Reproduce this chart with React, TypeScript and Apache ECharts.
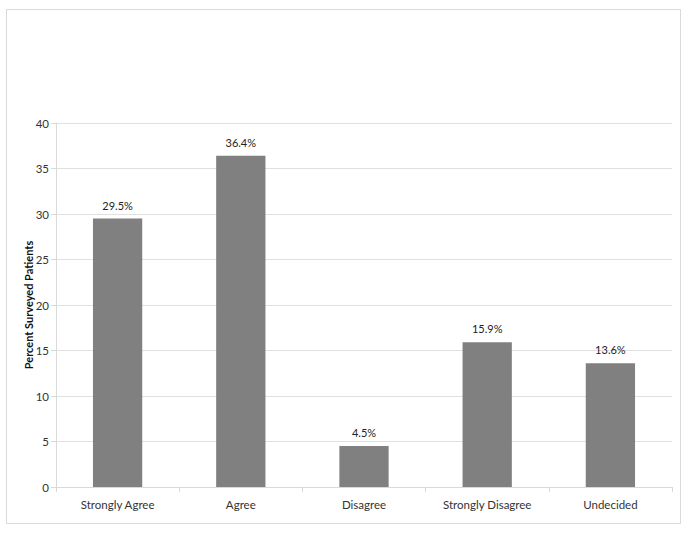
import React, { useEffect, useRef } from "react";
import * as echarts from "echarts";

const categories = ["Strongly Agree", "Agree", "Disagree", "Strongly Disagree", "Undecided"];
const values = [29.5, 36.4, 4.5, 15.9, 13.6];
const yTitle = "Percent Surveyed Patients";

export default function App() {
  const ref = useRef<HTMLDivElement>(null);
  useEffect(() => {
    if (!ref.current) return;
    const chart = echarts.init(ref.current, null, { renderer: "svg" });
    const font = "Lato, 'Open Sans', sans-serif";
    chart.setOption({
      animation: false,
      backgroundColor: "#ffffff",
      graphic: [
        {
          type: "rect",
          shape: { x: 6.5, y: 9.5, width: 674, height: 514 },
          style: { fill: "none", stroke: "#d9d9d9", lineWidth: 1 },
          silent: true,
        },
        {
          type: "text",
          x: 28,
          y: 305,
          rotation: Math.PI / 2,
          style: {
            text: yTitle,
            fill: "#111",
            font: "bold 11px Lato, 'Open Sans', sans-serif",
            align: "center",
            verticalAlign: "middle",
          },
          silent: true,
        },
      ],
      grid: { left: 56, right: 13, top: 123, bottom: 46 },
      xAxis: {
        type: "category",
        data: categories,
        axisLine: { lineStyle: { color: "#d9d9d9" } },
        axisTick: { show: true, alignWithLabel: false, length: 5, lineStyle: { color: "#d9d9d9" } },
        axisLabel: { color: "#333", fontFamily: font, fontSize: 11.5, margin: 11 },
      },
      yAxis: {
        type: "value",
        min: 0,
        max: 40,
        interval: 5,
        axisLine: { show: true, lineStyle: { color: "#d9d9d9" } },
        axisTick: { show: true, length: 5, lineStyle: { color: "#d9d9d9" } },
        axisLabel: { color: "#333", fontFamily: font, fontSize: 11.5, margin: 7 },
        splitLine: { lineStyle: { color: "#e0e0e0" } },
      },
      series: [
        {
          type: "bar",
          data: values,
          barWidth: "40%",
          itemStyle: { color: "#808080" },
          label: {
            show: true,
            position: "top",
            distance: 8,
            formatter: (p: any) => p.value.toFixed(1) + "%",
            color: "#222",
            fontFamily: font,
            fontSize: 11,
          },
        },
      ],
    });
    return () => chart.dispose();
  }, []);
  return (
    <div
      ref={ref}
      style={{ position: "absolute", left: 0, top: 0, width: 685, height: 533 }}
    />
  );
}
